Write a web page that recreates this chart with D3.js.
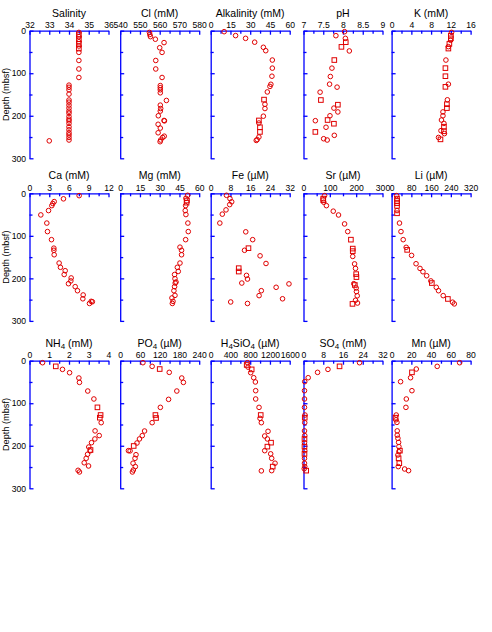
<!DOCTYPE html>
<html>
<head>
<meta charset="utf-8">
<script src="https://cdn.jsdelivr.net/npm/d3@7"></script>
<style>
  body { margin: 0; background: #fff; }
  svg { display: block; }
  text { font-family: "Liberation Sans", Arial, Helvetica, sans-serif; fill: #000; }
</style>
</head>
<body>
<svg id="chart" width="492" height="632"></svg>
<script>
// Pore-water profiles: each entry is [depth (mbsf), value, squareFlag]
const salinity = [[4,34.5],[9,34.5,1],[14,34.5],[20,34.5,1],[26,34.5],[31,34.5,1],[36,34.5],[42,34.5,1],[51,34.5],[70,34.5],[90,34.5],[110,34.5],
  [128,34.0],[133,34.0],[139,34.0],[149,34.0],[163,34.0],[168,34.0],[175,34.0],[182,34.0],[189,34.0],[194,34.0],[202,34.0],[208,34.0],[212,34.0],
  [218,34.0],[226,34.0],[233,34.0],[240,34.0],[245,34.0],[251,34.0],[257,34.0],[259,33.0]];
const chloride = [[4,554.8],[9,555],[14,555.3],[20,557.8],[28,562.2],[40,560],[51,561.2],[70,558],[90,558],[110,561.2],[129,560.3],[134,560.3],
  [139,560.3],[146,560.3],[164,563.4],[175,560.3],[183,560.5],[189,560.3],[200,559.3],[211,562.2],[212,562.4],[220,559.2],[229,560.3],[240,559.2],
  [248,562.3],[251,561.5],[257,560.5],[261,560.2]];
const alkalinity = [[2.3,10.2],[11.5,18.9],[18,26.5],[27,33.4],[39,40],[47,41.8],[69,46.8],[88,46.8],[107,46.5],[126,45.7],[131,45],[144,43],
  [162,40.5,1],[173,41.2],[183,41.2],[201,40],[211,36.6,1],[217,36.6],[227,37.4,1],[238,37.4,1],[250,36.6],[256,35.3],[258,34.6]];
const pH = [[2.3,8.04],[11.7,7.82],[18,8.06],[27,8.07,1],[38,7.96,1],[47.6,8.16],[69,7.78,1],[88,7.72],[107.7,7.68],[125.7,7.66],[132.7,7.85],
  [144.5,7.42],[163,7.44,1],[174,7.87,1],[182,7.77],[191,7.87],[200,7.67],[210,7.61,1],[211.6,7.30],[218.7,7.77,1],[227,7.57],[238,7.30,1],
  [246,7.78],[254,7.51],[257,7.60]];
const potassium = [[3.9,12.15],[11.7,12.0,1],[18,12.0,1],[22.5,11.95],[31,11.7,1],[37.5,11.5],[42,11.5,1],[69,11.0],[88,10.9,1],[107,10.9,1],
  [125.7,11.5],[132,10.9,1],[162.5,11.3],[172.7,11.2,1],[182,11.2,1],[191,10.4],[200,10.4],[210,10.1],[218,10.6],[225.7,10.6,1],[235,10.0],
  [236.5,10.6,1],[242,10.7],[251,9.5],[255.5,9.9,1]];
const calcium = [[5.5,7.54],[13,5.16],[19.5,3.75],[24,3.54],[29,3.39],[40.6,2.89],[50.8,1.72],[70,2.63],[90,2.73],[109,3.34],[129,3.70],[134,3.70],
  [144.5,3.75],[164,4.5],[174,4.7],[182,5.42],[191,5.27],[199,6.33],[206,6.28],[212.5,5.92],[219.5,6.94],[229,7.29],[239,8.15],[248,8.1],
  [254,9.37],[255,9.55],[259,9.11]];
const magnesium = [[4.7,51.2],[11.7,49.9],[17,50.7,1],[22,50.4,1],[29,49.7],[40.6,49.4],[50,49.9],[70,51.4],[90,51.7],[109,49.7],[126.6,45.4],
  [134,46.6],[144.5,46.6],[164,45.4],[174,43.4],[183.6,44.1],[191,41.3],[200.8,41.6],[208.6,42.4],[211,41.8],[219.5,41.3],[229,40.8],[240,41.6],
  [246,39.3],[254,40.1],[259,39.6]];
const iron = [[4.7,6.4],[12.5,7.8],[20,8.5],[26.6,7.7],[39,6.2],[49,4.7],[70,3.7],[90.6,14.2],[109,17.0],[129,15.3,1],[134,13.7],[147,20.0],
  [165,22.4],[176,11.35,1],[184,11.35,1],[193,14.5],[201.6,14.9],[211,12.6],[213,31.7],[221,26.5],[229,20.5],[240.6,19.6],[248,29.1],
  [255.5,8.1],[259,14.9]];
const strontium = [[5.5,80],[12.5,75,1],[16.4,75,1],[21,77],[29,87],[42,113],[51,133],[72,156],[90,168],[109,180,1],[130,187,1],[136,187,1],
  [148.4,187],[166,194],[176.6,197.5],[190,200,1],[197,201,1],[212.5,191],[215.6,195,1],[222.6,200],[231,201],[241,204],[251.5,197.5],
  [258,205],[260,186,1]];
const lithium = [[5.5,20],[12.5,22,1],[18,22,1],[23.4,22,1],[29.7,22,1],[40.6,22],[47,22,1],[70,32],[90,38],[109,47],[127,59],[133,63,1],
  [146,81],[165.6,99],[176.6,115],[184.4,127],[193.8,142],[206,159],[211,163,1],[221,181],[229,190],[240.6,209],[248.4,228,1],[256,247],[260,254]];
const ammonium = [[4.7,0.66],[13.3,1.33,1],[20.4,1.67],[28.2,2.03],[40.7,2.50],[51,2.53],[71.3,2.95],[90,3.26],[109.7,3.44,1],[127.7,3.60,1],
  [134,3.56,1],[145.7,3.63],[165,3.32],[176,3.53],[184,3.31],[192.7,3.14],[203,3.00],[210,3.09,1],[212,3.07],[220,2.94],[229.5,2.87],
  [240,2.77],[247.5,2.99],[257.7,2.46],[261.6,2.53]];
const phosphate = [[4.7,69],[13.3,97],[19.6,120,1],[27.4,149],[40.7,187],[51,192],[71.3,172],[90.9,147],[109.7,122],[127.7,107,1],[134.7,109,1],
  [145.7,97],[165.3,74],[176.2,67],[184,58.5],[193.5,51],[200.5,41,1],[211.5,25],[212,30],[221,48],[229.5,45],[241,39],[249,46],[257,40],[261.6,37]];
const silica = [[4.7,743],[10,729,1],[15,756],[20.4,830,1],[28.2,810],[40,871],[50,905],[70.5,911],[90,911],[109.7,979],[127.7,1013,1],
  [135.5,999],[145.7,1026],[166,1161],[177,1094],[184,1148],[192.7,1222,1],[202,1148,1],[211.5,1094],[219,1215],[229.5,1235],[241,1303],
  [249,1256,1],[258.5,1235],[259,1026]];
const sulfate = [[4.7,22.7],[13.3,14.6,1],[20.4,9.9],[27.4,5.7],[40,1.9],[49.3,0.5],[70.5,0.4],[90,0.4],[109.7,0.4],[127.7,0.6],[134,0.5,1],
  [145.7,0.5],[165,0.4],[176,0.5],[184,0.4,1],[192.7,0.4],[202,0.4,1],[211.5,0.5],[219,0.4,1],[229.5,0.4],[241,0.4],[249,0.5],[254,0.3],[258.5,1.1,1]];
const manganese = [[4.7,68.9],[13.3,46.2],[19.6,25],[27.4,20.6,1],[40,19.2],[49.3,9.1],[70.5,20.6],[90,14.9],[109.7,14.5],[127.7,4.7],[134,4.05,1],
  [139,4.4],[145,5.4],[165,5.7],[175,5.7],[182.5,6.4],[192,7.1],[202,7.4],[211.5,8.4,1],[214,7.4],[221.7,6.4],[229.5,7.1,1],[241,7.8,1],
  [249,6.75],[254.6,13.2],[258.5,17.2]];

// Axis tick labels for each profile (top axis) and the shared depth axis
const depthTicks = [0, 100, 200, 300];
const salinityTicks = [32, 33, 34, 35, 36];
const chlorideTicks = [540, 550, 560, 570, 580];
const alkalinityTicks = [0, 15, 30, 45, 60];
const pHTicks = [7, 7.5, 8, 8.5, 9];
const potassiumTicks = [0, 4, 8, 12, 16];
const calciumTicks = [0, 3, 6, 9, 12];
const magnesiumTicks = [0, 15, 30, 45, 60];
const ironTicks = [0, 8, 16, 24, 32];
const strontiumTicks = [0, 100, 200, 300];
const lithiumTicks = [0, 80, 160, 240, 320];
const ammoniumTicks = [0, 1, 2, 3, 4];
const phosphateTicks = [0, 60, 120, 180, 240];
const silicaTicks = [0, 400, 800, 1200, 1600];
const sulfateTicks = [0, 8, 16, 24, 32];
const manganeseTicks = [0, 20, 40, 60, 80];

// Titles as [text, isSubscript] runs
const panels = [
  { title: [["Salinity", 0]], ticks: salinityTicks, data: salinity },
  { title: [["Cl (mM)", 0]], ticks: chlorideTicks, data: chloride },
  { title: [["Alkalinity (mM)", 0]], ticks: alkalinityTicks, data: alkalinity },
  { title: [["pH", 0]], ticks: pHTicks, data: pH },
  { title: [["K (mM)", 0]], ticks: potassiumTicks, data: potassium },
  { title: [["Ca (mM)", 0]], ticks: calciumTicks, data: calcium },
  { title: [["Mg (mM)", 0]], ticks: magnesiumTicks, data: magnesium },
  { title: [["Fe (\u00b5M)", 0]], ticks: ironTicks, data: iron },
  { title: [["Sr (\u00b5M)", 0]], ticks: strontiumTicks, data: strontium },
  { title: [["Li (\u00b5M)", 0]], ticks: lithiumTicks, data: lithium },
  { title: [["NH", 0], ["4", 1], [" (mM)", 0]], ticks: ammoniumTicks, data: ammonium },
  { title: [["PO", 0], ["4", 1], [" (\u00b5M)", 0]], ticks: phosphateTicks, data: phosphate },
  { title: [["H", 0], ["4", 1], ["SiO", 0], ["4", 1], [" (\u00b5M)", 0]], ticks: silicaTicks, data: silica },
  { title: [["SO", 0], ["4", 1], [" (mM)", 0]], ticks: sulfateTicks, data: sulfate },
  { title: [["Mn (\u00b5M)", 0]], ticks: manganeseTicks, data: manganese }
];

const AXIS = "#0000ff";
const MARK = "#e00000";
const colX = [29.5, 120.2, 210.7, 303.5, 391.6];
const rowY = [30.7, 193.3, 360.7];
const W = 79, H = 127.6;

const svg = d3.select("#chart");
svg.append("rect").attr("width", 492).attr("height", 632).attr("fill", "#fff");

panels.forEach((p, i) => {
  const row = Math.floor(i / 5), col = i % 5;
  const g = svg.append("g").attr("transform", `translate(${colX[col]},${rowY[row]})`);
  const t = p.ticks;
  const x = d3.scaleLinear().domain([t[0], t[t.length - 1]]).range([0, W]);
  const y = d3.scaleLinear().domain([0, 300]).range([0, H]);

  // minor ticks halfway between labelled ticks
  const minorX = d3.pairs(t).map(([a, b]) => (a + b) / 2);
  const minorY = d3.pairs(depthTicks).map(([a, b]) => (a + b) / 2);

  const xMinor = g.append("g").call(d3.axisTop(x).tickValues(minorX).tickSize(-3).tickFormat(""));
  xMinor.select(".domain").remove();
  const xMajor = g.append("g").call(d3.axisTop(x).tickValues(t).tickSize(-4).tickSizeOuter(0).tickPadding(2.6)
    .tickFormat(d3.format("")));
  xMajor.selectAll("text").attr("font-size", 8.6).attr("fill", "#000");

  const yMinor = g.append("g").call(d3.axisLeft(y).tickValues(minorY).tickSize(-3).tickFormat(""));
  yMinor.select(".domain").remove();
  const yMajor = g.append("g").call(d3.axisLeft(y).tickValues(depthTicks).tickSize(-4).tickSizeOuter(0).tickPadding(3.5)
    .tickFormat(col === 0 ? d3.format("") : () => ""));
  yMajor.selectAll("text").attr("font-size", 8.6).attr("fill", "#000");

  g.selectAll(".domain, .tick line").attr("stroke", AXIS).attr("stroke-width", 1.3);

  // title with subscripts
  const title = g.append("text").attr("x", W / 2).attr("y", -14).attr("text-anchor", "middle").attr("font-size", 10.5);
  let shift = 0;
  p.title.forEach(([s, sub]) => {
    const dy = sub ? 2.5 - shift : -shift;
    shift = sub ? 2.5 : 0;
    title.append("tspan").attr("dy", dy).attr("font-size", sub ? 8 : 10.5).text(s);
  });

  if (col === 0) {
    g.append("text")
      .attr("transform", `translate(${-20.5},${H / 2}) rotate(-90)`)
      .attr("text-anchor", "middle").attr("font-size", 9.2)
      .text("Depth (mbsf)");
  }

  const circles = p.data.filter(d => !d[2]);
  const squares = p.data.filter(d => d[2]);
  g.selectAll("circle.pt").data(circles).join("circle")
    .attr("class", "pt")
    .attr("cx", d => x(d[1])).attr("cy", d => y(d[0])).attr("r", 2.3)
    .attr("fill", "none").attr("stroke", MARK).attr("stroke-width", 1);
  g.selectAll("rect.pt").data(squares).join("rect")
    .attr("class", "pt")
    .attr("x", d => x(d[1]) - 2.3).attr("y", d => y(d[0]) - 2.3)
    .attr("width", 4.6).attr("height", 4.6)
    .attr("fill", "none").attr("stroke", MARK).attr("stroke-width", 1);
});
</script>
</body>
</html>
